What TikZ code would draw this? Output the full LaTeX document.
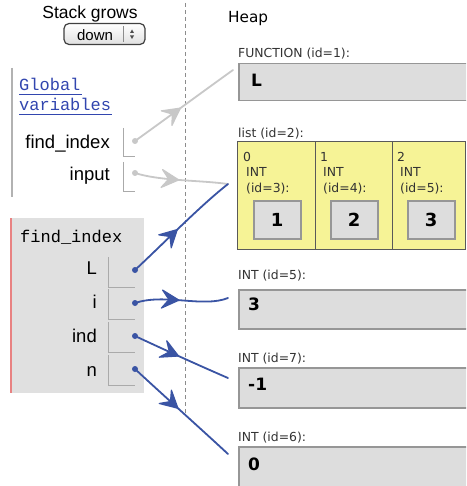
\documentclass[tikz,border=0pt]{standalone}
\usepackage{fontspec}
\setmainfont{Liberation Sans}
\newfontfamily\heapfont{DejaVu Sans}
\newfontfamily\codefont{Liberation Mono}
\usetikzlibrary{arrows.meta,decorations.markings}

\definecolor{ptrblue}{RGB}{58,84,164}
\definecolor{ptrgray}{RGB}{200,200,200}
\definecolor{heapfill}{RGB}{221,221,221}
\definecolor{heapedge}{RGB}{150,150,150}
\definecolor{listyellow}{RGB}{246,243,150}
\definecolor{framefill}{RGB}{224,224,224}
\definecolor{framered}{RGB}{232,130,130}
\definecolor{linkblue}{RGB}{50,70,175}
\definecolor{slotgray}{RGB}{170,170,170}

\begin{document}
\begin{tikzpicture}[x=1pt,y=-1pt,
  varlabel/.style={anchor=base east, inner sep=0pt, font=\fontsize{18.5}{20}\selectfont},
  slot/.style={draw=slotgray, line width=1pt},
  % pointer: line with a swept-back head part way along
  ptr/.style={line width=1.8pt, line cap=round, postaction={decorate},
    decoration={markings, mark=at position 0.43 with {
      \path[fill, draw, line width=1.2pt, line join=round] (4,0) -- (-13,9) -- (-6,0) -- (-13,-9) -- cycle;}}},
  ptrB/.style={ptr, color=ptrblue},
  ptrG/.style={ptr, color=ptrgray},
  heaplabel/.style={anchor=base west, inner sep=0pt, text=black!80, font=\heapfont\fontsize{12.4}{14}\selectfont},
  heapbox/.style={draw=heapedge, fill=heapfill, line width=1.5pt, anchor=north west, inner sep=0pt, minimum width=240pt},
  heapval/.style={anchor=base west, inner sep=0pt, font=\heapfont\bfseries\fontsize{17}{19}\selectfont},
  cellsmall/.style={anchor=base west, inner sep=0pt, text=black!80, font=\heapfont\fontsize{12.4}{14}\selectfont},
]
\clip (0,0) rectangle (466,486);
\fill[white] (0,0) rectangle (466,486);

% ---------- stack side ----------
\node[anchor=base, inner sep=0pt, font=\fontsize{17.5}{20}\selectfont] (stackgrows) at (90,19) {Stack grows};
\node[draw=black!75, line width=1.2pt, rounded corners=5pt, top color=white, bottom color=black!12,
      minimum width=81pt, minimum height=21pt, inner sep=0pt] (growsel) at (104.5,34) {};
\node[anchor=base, inner sep=0pt, font=\fontsize{15}{17}\selectfont] (growtxt) at (95,40.5) {down};
\draw[black!45, line width=0.8pt] (123.5,26) -- (123.5,42);
\fill[black!70] (130,33) -- (134,33) -- (132,29.5) -- cycle;
\fill[black!70] (130,35.5) -- (134,35.5) -- (132,39) -- cycle;

% stack / heap separator
\draw[black!45, line width=1pt, dash pattern=on 4pt off 3pt] (185,3) -- (185,415);

% global variables frame
\draw[black!30, line width=2pt] (12,68) -- (12,197);
\node[anchor=base west, inner sep=0pt, text=linkblue, font=\codefont\fontsize{17}{20}\selectfont] (glob1) at (19,91) {Global};
\node[anchor=base west, inner sep=0pt, text=linkblue, font=\codefont\fontsize{17}{20}\selectfont] (glob2) at (19,111) {variables};
\draw[linkblue, line width=1pt] (19,94.5) -- (82,94.5);
\draw[linkblue, line width=1pt] (19,114.5) -- (112,114.5);

\node[varlabel] (gfindlbl) at (110,149) {find\_index};
\node[varlabel] (ginputlbl) at (110,181) {input};
\draw[slot] (123,128) |- (135,157);
\draw[slot] (123,162) |- (135,191);
\coordinate (gFind) at (135,141);
\coordinate (gInput) at (135,173);

% find_index frame
\fill[framefill] (10,218) rectangle (144,393);
\draw[framered, line width=2pt] (11,218) -- (11,393);
\node[anchor=base west, inner sep=0pt, font=\codefont\fontsize{17}{20}\selectfont] (framename) at (20,242) {find\_index};

\node[varlabel] (lbL) at (97,274) {L};
\node[varlabel] (lbI) at (97,308) {i};
\node[varlabel] (lbInd) at (97,342) {ind};
\node[varlabel] (lbN) at (97,376) {n};
\draw[slot] (108,257) |- (135,287);
\draw[slot] (108,289) |- (135,319);
\draw[slot] (108,322) |- (135,352);
\draw[slot] (108,355) |- (135,385);
\coordinate (lL) at (135,270);
\coordinate (lI) at (135,303);
\coordinate (lInd) at (135,336);
\coordinate (lN) at (135,369);

% ---------- heap side ----------
\node[anchor=base west, inner sep=0pt, font=\heapfont\fontsize{15.3}{17}\selectfont] (heaptitle) at (228,23) {Heap};

% FUNCTION
\node[heaplabel] (funclbl) at (238,58) {FUNCTION (id=1):};
\node[heapbox, minimum height=37pt] (funcbox) at (238,63) {};
\node[heapval] (funcval) at (251,87) {L};

% list
\node[heaplabel] (listlbl) at (238,138) {list (id=2):};
\draw[black!65, fill=listyellow, line width=1pt] (237.5,142) rectangle (465.5,249);
\draw[black!65, line width=1pt] (315,142) -- (315,249);
\draw[black!65, line width=1pt] (392,142) -- (392,249);
\foreach \i/\id/\v in {0/3/1, 1/4/2, 2/5/3} {
  \pgfmathsetmacro{\cx}{238+77*\i}
  \node[cellsmall] (idx\i) at (\cx+5,162) {\i};
  \node[cellsmall] (int\i) at (\cx+8,177) {INT};
  \node[cellsmall] (iid\i) at (\cx+8,193) {(id=\id):};
  \node[draw=heapedge, fill=heapfill, line width=1.5pt, anchor=north west, inner sep=0pt,
        minimum width=47pt, minimum height=38pt] (elem\i) at (\cx+15,200) {};
  \node[anchor=center, inner sep=0pt, font=\heapfont\bfseries\fontsize{18}{20}\selectfont] (elemval\i) at (elem\i.center) {\v};
}

% INT boxes
\node[heaplabel] (int5lbl) at (238,279) {INT (id=5):};
\node[heapbox, minimum height=39pt] (int5box) at (238,289) {};
\node[heapval] (int5val) at (248,310) {3};

\node[heaplabel] (int7lbl) at (238,362) {INT (id=7):};
\node[heapbox, minimum height=40pt] (int7box) at (238,367) {};
\node[heapval] (int7val) at (248,390) {-1};

\node[heaplabel] (int6lbl) at (238,441) {INT (id=6):};
\node[heapbox, minimum height=40pt] (int6box) at (238,446) {};
\node[heapval] (int6val) at (248,470) {0};

% pointer end points at the heap objects
\coordinate (tFunc) at (233,70);
\coordinate (tList) at (228,184);
\coordinate (tInt5) at (228,298);
\coordinate (tInt7) at (228,378);
\coordinate (tInt6) at (228,454);

% ---------- pointers ----------
\draw[ptrG] (gFind) .. controls +(32,-23) and +(-32,23) .. (tFunc);
\draw[ptrG] (gInput) .. controls +(25,8) and +(-30,-4) .. (tList);
\draw[ptrB] (lL) .. controls +(28,-26) and +(-28,22) .. (tList);
\draw[ptrB] (lI) .. controls +(30,-10) and +(-25,10) .. (tInt5);
\draw[ptrB] (lInd) .. controls +(30,14) and +(-30,-13) .. (tInt7);
\draw[ptrB] (lN) .. controls +(28,26) and +(-28,-26) .. (tInt6);

\fill[ptrgray] (gFind) circle[radius=3];
\fill[ptrgray] (gInput) circle[radius=3];
\fill[ptrblue] (lL) circle[radius=3];
\fill[ptrblue] (lI) circle[radius=3];
\fill[ptrblue] (lInd) circle[radius=3];
\fill[ptrblue] (lN) circle[radius=3];
\end{tikzpicture}
\end{document}
